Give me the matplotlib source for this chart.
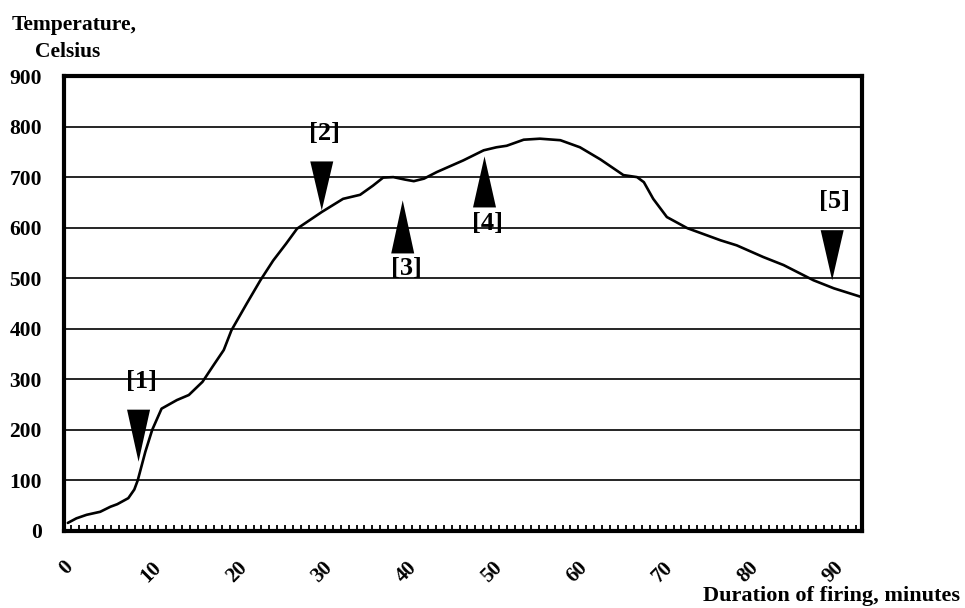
import numpy as np
import matplotlib
matplotlib.use("Agg")
import matplotlib.pyplot as plt
from matplotlib.ticker import FixedLocator

# ---- data ----
minutes = [0.2, 1.2, 2.4, 4.0, 5.2, 6.0, 7.3, 8.0, 8.4, 9.3, 10.1, 11.2, 13.0, 14.4, 16.0,
           17.3, 18.5, 19.4, 21.2, 22.8, 24.3, 25.8, 27.1, 30.0, 32.5, 34.5, 36.0,
           37.2, 38.4, 39.8, 40.8, 42.0, 43.5, 46.6, 49.0, 50.5, 51.7, 53.7, 55.6,
           58.0, 60.3, 62.7, 65.4, 67.0, 67.8, 68.9, 70.5, 72.9, 76.8, 78.7, 81.8,
           84.2, 87.7, 90.1, 93.3]
temperature = [16, 25, 32, 38, 48, 53, 65, 82, 100, 157, 200, 242, 259, 269, 295,
               328, 358, 397, 450, 496, 535, 568, 598, 631, 657, 665, 683,
               699, 700, 695, 692, 697, 710, 733, 753, 759, 762, 774, 776,
               773, 759, 735, 704, 700, 690, 657, 621, 599, 575, 565, 542,
               526, 496, 480, 463]

marker_labels = ["[1]", "[2]", "[3]", "[4]", "[5]"]
marker_x = [8.5, 30.0, 39.5, 49.1, 89.9]
marker_base = [240, 731, 549, 640, 595]
marker_tip = [137, 634, 654, 741, 496]
label_x = [8.9, 30.3, 39.9, 49.4, 90.2]
label_y = [295, 786, 519, 608, 651]

y_ticks = [0, 100, 200, 300, 400, 500, 600, 700, 800, 900]
x_ticks = [0, 10, 20, 30, 40, 50, 60, 70, 80, 90]

# ---- style ----
plt.rcParams['font.family'] = ['Liberation Serif', 'DejaVu Serif']
fig = plt.figure(figsize=(9.65, 6.08), dpi=100)
ax = fig.add_axes([64/965, 1-531/608, (862-64)/965, (531-76)/608])

ax.set_xlim(-0.25, 93.4)
ax.set_ylim(0, 900)

for yv in y_ticks[1:-1]:
    ax.axhline(yv, color='black', lw=1.2, zorder=1)

ax.plot(minutes, temperature, color='black', lw=1.9, zorder=3,
        solid_joinstyle='round', solid_capstyle='round')

half_w = 1.35
for lab, mx, b, t, lx, ly in zip(marker_labels, marker_x, marker_base, marker_tip,
                                  label_x, label_y):
    ax.fill([mx - half_w, mx + half_w, mx], [b, b, t], color='black', zorder=4,
            lw=0)
    ax.text(lx, ly, lab, ha='center', va='center', fontsize=19,
            fontweight='bold', zorder=5)

for s in ax.spines.values():
    s.set_linewidth(3.0)
    s.set_color('black')

ax.set_yticks(y_ticks)
ax.set_yticklabels([str(v) for v in y_ticks], fontsize=15.5, fontweight='bold')
ax.tick_params(axis='y', length=0, pad=16)

ax.set_xticks(x_ticks)
ax.set_xticklabels([str(v) for v in x_ticks], fontsize=15, fontweight='bold',
                   rotation=45, ha='center', va='top')
ax.tick_params(axis='x', which='major', length=0, pad=19)
ax.xaxis.set_minor_locator(FixedLocator(np.arange(0.6, 93.3, 0.93)))
ax.tick_params(axis='x', which='minor', direction='in', length=4, width=1.3)

fig.text(12/965, 1-30/608, "Temperature,", fontsize=15.5, fontweight='bold',
         ha='left', va='baseline')
fig.text(35/965, 1-57/608, "Celsius", fontsize=15.5, fontweight='bold',
         ha='left', va='baseline')
fig.text(960/965, 1-601/608, "Duration of firing, minutes", fontsize=16,
         fontweight='bold', ha='right', va='baseline')

fig.savefig("out.png", dpi=100)
